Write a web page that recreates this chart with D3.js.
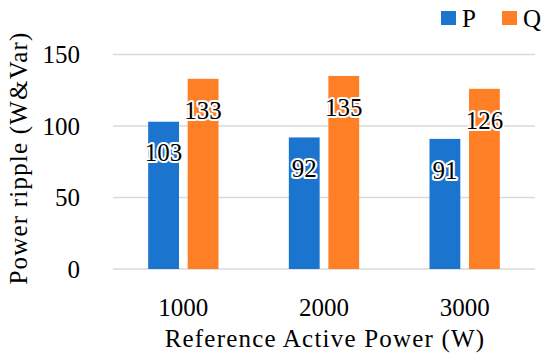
<!DOCTYPE html>
<html lang="en">
<head>
  <meta charset="UTF-8" />
  <title>Power ripple</title>
  <style>
    body {
      margin: 0;
      background-color: white;
    }
    svg text {
      font-family: 'Liberation Serif', 'DejaVu Serif', serif;
      fill: black;
    }
    .title {
      letter-spacing: 1.2px;
    }
  </style>
  <script src="https://d3js.org/d3.v7.min.js"></script>
</head>
<body>
  <div id="chart"></div>

  <script>
    const categories = ["1000", "2000", "3000"];
    const series = ["P", "Q"];
    const valuesP = [103, 92, 91];
    const valuesQ = [133, 135, 126];
    const yTicks = [0, 50, 100, 150];

    const colors = { P: "#1B75CF", Q: "#FF7F27" };

    const width = 550;
    const height = 356;
    const margin = { top: 54.5, right: 15, bottom: 87, left: 113 };

    const svg = d3.select("#chart")
      .append("svg")
      .attr("width", width)
      .attr("height", height);

    const x0 = d3.scaleBand()
      .domain(categories)
      .range([margin.left, width - margin.right])
      .paddingInner(0.5)
      .paddingOuter(0.25);

    const x1 = d3.scaleBand()
      .domain(series)
      .range([0, x0.bandwidth()])
      .paddingInner(0.22);

    const y = d3.scaleLinear()
      .domain([0, 150])
      .range([height - margin.bottom, margin.top]);

    // gridlines
    svg.append("g")
      .selectAll("line")
      .data(yTicks)
      .enter().append("line")
      .attr("x1", margin.left)
      .attr("x2", width - margin.right)
      .attr("y1", d => y(d))
      .attr("y2", d => y(d))
      .attr("stroke", "#d9d9d9")
      .attr("stroke-width", 1.5);

    // y tick labels
    svg.append("g")
      .selectAll("text")
      .data(yTicks)
      .enter().append("text")
      .attr("x", margin.left - 33)
      .attr("y", d => y(d))
      .attr("dy", "0.35em")
      .attr("text-anchor", "end")
      .attr("font-size", 25)
      .text(d => d);

    // x tick labels
    svg.append("g")
      .selectAll("text")
      .data(categories)
      .enter().append("text")
      .attr("x", d => x0(d) + x0.bandwidth() / 2)
      .attr("y", 316)
      .attr("text-anchor", "middle")
      .attr("font-size", 25)
      .text(d => d);

    const rows = categories.map((c, i) => ({
      cat: c,
      vals: [{ key: "P", v: valuesP[i] }, { key: "Q", v: valuesQ[i] }]
    }));

    const groups = svg.append("g")
      .selectAll("g")
      .data(rows)
      .enter().append("g")
      .attr("transform", d => `translate(${x0(d.cat)},0)`);

    groups.selectAll("rect")
      .data(d => d.vals)
      .enter().append("rect")
      .attr("x", d => x1(d.key))
      .attr("width", x1.bandwidth())
      .attr("y", d => y(d.v))
      .attr("height", d => y(0) - y(d.v))
      .attr("fill", d => colors[d.key]);

    // value labels with white glow
    groups.selectAll("text.label")
      .data(d => d.vals)
      .enter().append("text")
      .attr("class", "label")
      .attr("x", d => x1(d.key) + x1.bandwidth() / 2)
      .attr("y", d => y(d.v) + 31)
      .attr("dy", "0.35em")
      .attr("text-anchor", "middle")
      .attr("font-size", 25)
      .attr("stroke", "white")
      .attr("stroke-width", 4)
      .attr("stroke-linejoin", "round")
      .attr("paint-order", "stroke")
      .text(d => d.v);

    // axis titles
    svg.append("text")
      .attr("class", "title")
      .attr("x", 325)
      .attr("y", 347)
      .attr("text-anchor", "middle")
      .attr("font-size", 25)
      .text("Reference Active Power (W)");

    svg.append("text")
      .attr("class", "title")
      .attr("transform", "translate(27,158) rotate(-90)")
      .attr("text-anchor", "middle")
      .attr("font-size", 25)
      .text("Power ripple (W&Var)");

    // legend
    const legend = svg.append("g");
    const legendX = [441, 502];
    series.forEach((s, i) => {
      legend.append("rect")
        .attr("x", legendX[i])
        .attr("y", 11)
        .attr("width", 15)
        .attr("height", 14)
        .attr("fill", colors[s]);
      legend.append("text")
        .attr("x", legendX[i] + 21)
        .attr("y", 18)
        .attr("dy", "0.35em")
        .attr("font-size", 25)
        .text(s);
    });
  </script>
</body>
</html>
